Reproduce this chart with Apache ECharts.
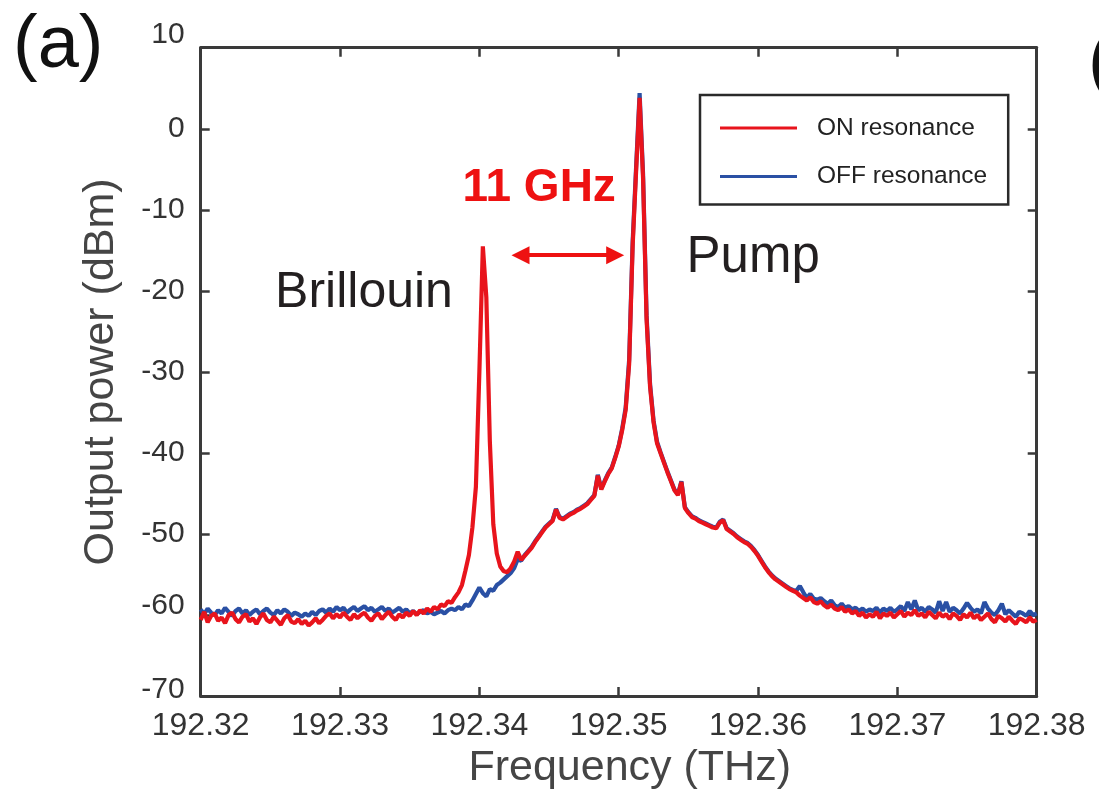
<!DOCTYPE html>
<html>
<head>
<meta charset="utf-8">
<script src="https://cdn.jsdelivr.net/npm/echarts@6/dist/echarts.min.js"></script>
<style>
  html, body { margin: 0; padding: 0; background: #fff; }
  #chart { width: 1099px; height: 795px; }
</style>
</head>
<body>
<div id="chart"></div>
<script>
// Optical spectrum around the pump: ON vs OFF resonance (dBm), sampled every 0.25 GHz
const freqStart = 192.32;   // THz
const freqStep = 0.00025;   // THz

const seriesNames = ['ON resonance', 'OFF resonance'];

const onPower = [
  -60.6, -59.6, -60.9, -60.1, -59.8, -60.7, -60.3, -61.0, -60.0, -59.7,
  -60.5, -60.9, -60.2, -59.9, -60.8, -60.4, -61.1, -60.3, -59.8, -60.6,
  -60.9, -60.2, -60.7, -61.2, -60.4, -60.0, -60.8, -61.0, -60.5, -61.1,
  -60.7, -61.3, -60.9, -60.4, -61.0, -60.6, -60.1, -59.8, -60.4, -59.9,
  -60.3, -59.7, -60.2, -60.6, -59.9, -60.4, -60.0, -59.7, -60.3, -60.7,
  -60.1, -59.8, -60.5, -60.0, -59.6, -60.2, -60.6, -59.9, -60.3, -59.7,
  -60.1, -59.5, -60.0, -59.4, -59.8, -59.2,
  -59.6, -59.0, -59.3, -58.7, -58.9, -58.3, -58.5, -57.8, -57.2, -56.3,
  -54.5, -52.6, -49.2, -44.2, -30.0, -14.5, -20.8, -38.5, -48.8, -52.4,
  -54.0, -54.6, -54.7, -54.2, -53.4, -52.2, -53.2, -52.7,
  -52.2, -51.7, -51.0, -50.4, -49.8, -49.2, -48.8, -48.4, -47.0, -48.0,
  -48.2, -47.9, -47.6, -47.4, -47.1, -46.9, -46.6, -46.3, -45.8, -45.3,
  -42.8, -44.5, -43.5, -42.6, -41.9, -40.6, -39.2, -37.2, -34.7, -29.0,
  -14.5, -5.2, 3.8, -6.2, -23.5, -31.8, -36.2, -38.8, -40.0, -41.2,
  -42.4, -43.5, -44.6, -45.2, -43.6, -46.8, -47.4, -47.9, -48.1, -48.4,
  -48.6, -48.8, -49.0, -49.2, -49.3, -48.6, -48.3, -49.4, -49.7, -50.0,
  -50.4, -50.7, -51.0, -51.2, -51.6, -52.1, -52.7, -53.4, -54.1, -54.7,
  -55.2, -55.6, -55.9, -56.2, -56.5, -56.8, -57.0, -57.2, -57.6,
  -57.9, -58.2, -57.8, -58.4, -58.6, -58.3, -58.8, -59.1, -58.7, -59.2,
  -59.4, -59.0, -59.6, -59.3, -59.8, -59.5, -60.1, -59.7, -60.3, -59.9,
  -60.2, -59.6, -60.4, -59.8, -60.1, -59.7, -60.3, -59.9, -59.5, -60.2,
  -59.7, -60.0, -59.4, -60.1, -59.8, -60.3, -59.6, -60.0, -60.4, -59.7,
  -60.2, -59.9, -60.5, -59.8, -60.1, -60.6, -59.9, -60.3, -59.7, -60.4,
  -60.0, -60.6, -60.2, -59.8, -60.5, -60.9, -60.1, -60.4, -60.8, -60.2,
  -60.7, -61.1, -60.4, -60.6, -60.9, -60.3, -60.8, -60.6
];

const offPower = [
  -59.3, -59.9, -59.2, -59.7, -60.0, -59.4, -59.8, -59.1, -59.6, -60.1,
  -59.5, -59.2, -59.8, -59.4, -60.0, -59.6, -59.3, -59.9, -59.5, -59.2,
  -59.7, -60.0, -59.4, -59.8, -59.3, -59.6, -60.1, -59.7, -59.9, -60.2,
  -59.8, -60.1, -59.6, -60.0, -59.5, -59.3, -59.7, -59.2, -59.6, -59.0,
  -59.4, -59.1, -59.7, -59.3, -59.0, -59.5, -59.2, -58.9, -59.4, -59.1,
  -59.6, -59.3, -59.0, -59.5, -59.2, -59.7, -59.4, -59.1, -59.6, -59.3,
  -59.8, -59.5, -59.9, -59.6, -59.4, -59.8, -59.6, -59.9, -59.7, -59.5,
  -59.8, -59.4, -59.2,
  -59.4, -59.0, -59.3, -58.7, -58.9, -58.2, -57.4, -56.6, -57.3, -57.7,
  -56.8, -57.0, -56.3, -56.0, -55.6, -55.2, -54.8, -54.2, -53.1, -53.3,
  -52.6,
  -52.1, -51.6, -50.9, -50.3, -49.7, -49.1, -48.7, -48.3, -46.9, -47.9,
  -48.1, -47.8, -47.5, -47.3, -47.0, -46.8, -46.5, -46.2, -45.7, -45.2,
  -42.7, -44.4, -43.4, -42.5, -41.8, -40.5, -39.1, -37.0, -34.4, -28.5,
  -14.0, -4.7, 4.4, -5.7, -23.0, -31.5, -36.0, -38.6, -39.9, -41.1,
  -42.3, -43.4, -44.5, -45.1, -43.5, -46.7, -47.3, -47.8, -48.0, -48.3,
  -48.5, -48.7, -48.9, -49.1, -49.2, -48.5, -48.2, -49.3, -49.6, -49.9,
  -50.3, -50.6, -50.9, -51.1, -51.5, -52.0, -52.6, -53.3, -54.0, -54.6,
  -55.1, -55.5, -55.8, -56.1, -56.4, -56.7, -56.9, -57.0, -56.4,
  -57.2, -57.9, -57.4, -58.0, -58.1, -57.9, -58.3, -58.6, -58.2, -58.8,
  -59.0, -58.6, -59.1, -58.9, -59.3, -59.1, -59.5, -59.2, -59.6, -59.3,
  -59.5, -59.1, -59.7, -59.2, -59.5, -59.1, -59.6, -59.3, -58.9, -59.5,
  -58.4, -59.3, -58.2, -59.4, -59.1, -59.6, -59.0, -59.3, -59.7, -58.3,
  -59.5, -58.4, -59.6, -59.1, -59.4, -59.8, -59.2, -58.5, -59.1, -59.6,
  -59.3, -59.8, -58.4, -59.2, -59.7, -60.0, -59.4, -58.6, -59.9, -59.4,
  -59.8, -60.2, -59.6, -59.8, -60.1, -59.5, -60.0, -59.8
];

// Axis ranges and ticks
const xTicks = { min: 192.32, max: 192.38, step: 0.01 };
const yTicks = { min: -70, max: 10, step: 10 };

// Peak separation marker (THz, dBm)
const sepArrow = { from: 192.34295, to: 192.34975, level: -15.6 };

// Text annotations anchored in data coordinates
const annotations = [
  { text: 'Brillouin', freq: 192.33172, power: -20.3, bold: false, color: '#231f20', size: 50 },
  { text: 'Pump', freq: 192.35965, power: -16.0, bold: false, color: '#231f20', size: 51 },
  { text: '11 GHz', freq: 192.34429, power: -7.4, bold: true, color: '#ee1111', size: 46 }
];

const RED = '#e8141c';
const BLUE = '#2a50a4';
const AXIS = '#3a3a3a';
const FONT = '"Liberation Sans", Arial, Helvetica, sans-serif';

const freq = onPower.map((_, i) => +(freqStart + i * freqStep).toFixed(5));
const onData = freq.map((f, i) => [f, onPower[i]]);
const offData = freq.map((f, i) => [f, offPower[i]]);

const chart = echarts.init(document.getElementById('chart'), null, { renderer: 'canvas' });

const axisLine = { show: true, onZero: false, lineStyle: { color: AXIS, width: 3 } };
const tickIn = { show: true, inside: true, length: 9, lineStyle: { color: AXIS, width: 2.5 } };

const option = {
  animation: false,
  backgroundColor: '#ffffff',
  grid: { left: 200.7, right: 62.3, top: 47.7, bottom: 93.3, containLabel: false },
  legend: {
    data: seriesNames,
    orient: 'vertical',
    left: 700,
    top: 95,
    icon: 'rect',
    itemWidth: 77,
    itemHeight: 3,
    itemGap: 22.4,
    padding: [20, 21, 15, 20],
    borderColor: '#2a2a2a',
    borderWidth: 2.5,
    backgroundColor: '#ffffff',
    textStyle: {
      fontFamily: FONT, fontSize: 24.5, color: '#222', lineHeight: 26,
      padding: [0, 0, 0, 15]
    },
    selectedMode: false
  },
  xAxis: [{
    type: 'value',
    min: xTicks.min, max: xTicks.max, interval: xTicks.step,
    name: 'Frequency (THz)',
    nameLocation: 'middle',
    nameGap: 48,
    nameTextStyle: { fontFamily: FONT, fontSize: 43, color: '#454545', padding: [0, 0, 0, 22] },
    axisLine: axisLine,
    axisTick: tickIn,
    splitLine: { show: false },
    axisLabel: {
      fontFamily: FONT, fontSize: 32, color: '#333', margin: 14,
      formatter: v => v.toFixed(2)
    }
  }, {
    type: 'value', position: 'top',
    min: xTicks.min, max: xTicks.max, interval: xTicks.step,
    axisLine: axisLine, axisTick: tickIn,
    axisLabel: { show: false }, splitLine: { show: false }
  }],
  yAxis: [{
    type: 'value',
    min: yTicks.min, max: yTicks.max, interval: yTicks.step,
    name: 'Output power (dBm)',
    nameLocation: 'middle',
    nameGap: 78,
    nameTextStyle: { fontFamily: FONT, fontSize: 43, color: '#454545' },
    axisLine: axisLine,
    axisTick: tickIn,
    splitLine: { show: false },
    axisLabel: {
      fontFamily: FONT, fontSize: 30, color: '#333', margin: 16,
      formatter: v => {
        if (v === 10) return '{up|' + v + '}';
        if (v === -60) return '{upM|' + v + '}';
        if (v === -70) return '{upS|' + v + '}';
        return '{n|' + v + '}';
      },
      rich: {
        n: { fontFamily: FONT, fontSize: 30, color: '#333' },
        up: { fontFamily: FONT, fontSize: 30, color: '#333', padding: [0, 0, 26, 0] },
        upM: { fontFamily: FONT, fontSize: 30, color: '#333', padding: [0, 0, 18, 0] },
        upS: { fontFamily: FONT, fontSize: 30, color: '#333', padding: [0, 0, 12, 0] }
      }
    }
  }, {
    type: 'value', position: 'right',
    min: yTicks.min, max: yTicks.max, interval: yTicks.step,
    axisLine: axisLine, axisTick: tickIn,
    axisLabel: { show: false }, splitLine: { show: false }
  }],
  series: [{
    name: 'OFF resonance',
    type: 'line',
    data: offData,
    showSymbol: false,
    symbol: 'none',
    lineStyle: { color: BLUE, width: 4.2 },
    itemStyle: { color: BLUE },
    emphasis: { disabled: true },
    z: 2
  }, {
    name: 'ON resonance',
    type: 'line',
    data: onData,
    showSymbol: false,
    symbol: 'none',
    lineStyle: { color: RED, width: 4.2 },
    itemStyle: { color: RED },
    emphasis: { disabled: true },
    z: 3,
    markLine: {
      silent: true,
      symbol: ['triangle', 'triangle'],
      symbolSize: [18, 18],
      label: { show: false },
      lineStyle: { color: '#ee1111', width: 4, type: 'solid' },
      emphasis: { disabled: true },
      data: [[
        { coord: [sepArrow.from, sepArrow.level] },
        { coord: [sepArrow.to, sepArrow.level] }
      ]]
    }
  }]
};

chart.setOption(option);

// Place text annotations at their data positions, plus the panel letters
const graphics = annotations.map(a => {
  const p = chart.convertToPixel({ gridIndex: 0 }, [a.freq, a.power]);
  return {
    type: 'text',
    x: p[0], y: p[1],
    style: {
      text: a.text,
      fontFamily: FONT,
      fontSize: a.size,
      fontWeight: a.bold ? 'bold' : 'normal',
      fill: a.color,
      align: 'center',
      verticalAlign: 'middle'
    },
    z: 10
  };
});
graphics.push({
  type: 'text', x: 13, y: 10,
  style: { text: '(a)', fontFamily: FONT, fontSize: 74, fill: '#111', align: 'left', verticalAlign: 'top' }
});
graphics.push({
  type: 'text', x: 1088, y: 28,
  style: { text: '(b)', fontFamily: FONT, fontSize: 74, fill: '#111', align: 'left', verticalAlign: 'top' }
});
chart.setOption({ graphic: graphics });
</script>
</body>
</html>
